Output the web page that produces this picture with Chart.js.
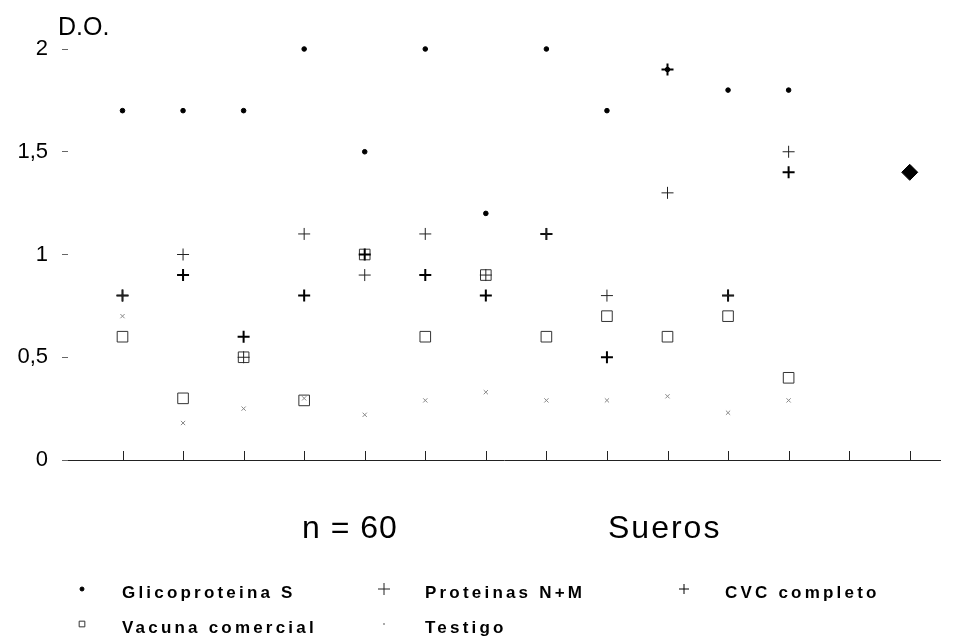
<!DOCTYPE html>
<html>
<head>
<meta charset="utf-8">
<script src="https://cdn.jsdelivr.net/npm/chart.js@4.4.1/dist/chart.umd.min.js"></script>
<style>
  html, body { margin: 0; padding: 0; background: #fff; }
  #wrap { width: 958px; height: 640px; }
</style>
</head>
<body>
<div id="wrap"><canvas id="chart" width="958" height="640"></canvas></div>
<script>
// sera positions along the x axis
var sueros = [1, 2, 3, 4, 5, 6, 7, 8, 9, 10, 11, 12, 13, 14];

var glicoproteina = [1.7, 1.7, 1.7, 2.0, 1.5, 2.0, 1.2, 2.0, 1.7, 1.9, 1.8, 1.8, null, null];
var proteinasNM   = [0.8, 1.0, 0.5, 1.1, 0.9, 1.1, 0.9, 1.1, 0.8, 1.3, 0.8, 1.5, null, null];
var cvcCompleto   = [0.8, 0.9, 0.6, 0.8, 1.0, 0.9, 0.8, 1.1, 0.5, 1.9, 0.8, 1.4, null, null];
var vacuna        = [0.6, 0.3, 0.5, 0.29, 1.0, 0.6, 0.9, 0.6, 0.7, 0.6, 0.7, 0.4, null, null];
var testigo       = [0.7, 0.18, 0.25, 0.3, 0.22, 0.29, 0.33, 0.29, 0.29, 0.31, 0.23, 0.29, null, null];
var aislado       = [null, null, null, null, null, null, null, null, null, null, null, null, null, 1.4];

var yTicks = [0, 0.5, 1, 1.5, 2];

function $each(arr, fn) { for (var i = 0; i < arr.length; i++) fn(arr[i], i); }

function pts(values) {
    var out = [];
    $each(values, function(v, i) {
        if (v !== null) out.push({ x: sueros[i], y: v });
    });
    return out;
}

var datasets = [
    { label: "Glicoproteina S", data: pts(glicoproteina), pointStyle: "circle", pointRadius: 2.3,
      backgroundColor: "#000", borderColor: "#000", pointBorderWidth: 1, legendRadius: 2 },
    { label: "Proteinas N+M", data: pts(proteinasNM), pointStyle: "cross", pointRadius: 6,
      backgroundColor: "#000", borderColor: "#222", pointBorderWidth: 1, legendRadius: 6 },
    { label: "CVC completo", data: pts(cvcCompleto), pointStyle: "cross", pointRadius: 6,
      backgroundColor: "#000", borderColor: "#000", pointBorderWidth: 2, legendRadius: 5 },
    { label: "Vacuna comercial", data: pts(vacuna), pointStyle: "rect", pointRadius: 7.5,
      backgroundColor: "rgba(0,0,0,0)", borderColor: "#333", pointBorderWidth: 1, legendRadius: 4 },
    { label: "Testigo", data: pts(testigo), pointStyle: "crossRot", pointRadius: 3,
      backgroundColor: "#888", borderColor: "#888", pointBorderWidth: 1, legendRadius: 1 },
    { label: "", data: pts(aislado), pointStyle: "rectRot", pointRadius: 8,
      backgroundColor: "#000", borderColor: "#000", pointBorderWidth: 1, hideInLegend: true }
];
$each(datasets, function(ds) { ds.clip = false; });

var textPlugin = {
    id: "extraText",
    afterDraw: function(chart) {
        var ctx = chart.ctx;
        var xs = chart.scales.x;
        var area = chart.chartArea;

        // x ticks pointing up from the axis
        ctx.save();
        ctx.strokeStyle = "#222";
        ctx.lineWidth = 1;
        $each(sueros, function(v) {
            var px = Math.round(xs.getPixelForValue(v)) + 0.5;
            ctx.beginPath();
            ctx.moveTo(px, area.bottom);
            ctx.lineTo(px, area.bottom - 9);
            ctx.stroke();
        });
        ctx.restore();

        ctx.save();
        ctx.fillStyle = "#000";
        ctx.textBaseline = "alphabetic";
        ctx.textAlign = "left";
        ctx.font = "25px Arial, 'Liberation Sans'";
        ctx.fillText("D.O.", 58, 35);

        ctx.font = "32px Arial, 'Liberation Sans'";
        ctx.letterSpacing = "1px";
        ctx.fillText("n = 60", 302, 538);
        ctx.letterSpacing = "2px";
        ctx.fillText("Sueros", 608, 538);

        // legend, three columns
        var markX = [82, 384, 684];
        var textX = [122, 425, 725];
        var rowY = [593, 628];
        ctx.font = "bold 17px Arial, 'Liberation Sans'";
        ctx.letterSpacing = "3.2px";
        ctx.textBaseline = "middle";
        var n = 0;
        $each(chart.data.datasets, function(ds) {
            if (ds.hideInLegend) return;
            var col = n % 3, row = Math.floor(n / 3);
            ctx.fillStyle = ds.backgroundColor;
            ctx.strokeStyle = ds.borderColor;
            ctx.lineWidth = 1;
            Chart.helpers.drawPoint(ctx, {
                pointStyle: ds.pointStyle, radius: ds.legendRadius, borderWidth: 1, rotation: 0
            }, markX[col], rowY[row] - 4);
            ctx.fillStyle = "#000";
            ctx.fillText(ds.label, textX[col], rowY[row]);
            n++;
        });
        ctx.letterSpacing = "0px";
        ctx.restore();
    }
};

var ctx = document.getElementById("chart").getContext("2d");
var chart = new Chart(ctx, {
    type: "scatter",
    data: { datasets: datasets },
    options: {
        responsive: false,
        animation: false,
        layout: { padding: { top: 49, right: 18, bottom: 0, left: 0 } },
        plugins: {
            legend: { display: false },
            tooltip: { enabled: false }
        },
        scales: {
            x: {
                type: "linear",
                min: 0.1,
                max: 14.5,
                ticks: { display: false },
                grid: { display: false },
                border: { display: true, color: "#222", width: 1 },
                afterFit: function(scale) { scale.height = 180; }
            },
            y: {
                min: 0,
                max: 2,
                afterBuildTicks: function(scale) {
                    scale.ticks = yTicks.map(function(v) { return { value: v }; });
                },
                ticks: {
                    color: "#000",
                    padding: 14,
                    font: { family: "Arial, 'Liberation Sans'", size: 22 },
                    callback: function(v) { return String(v).replace(".", ","); }
                },
                grid: { drawOnChartArea: false, tickLength: 6, color: "#666" },
                border: { display: false },
                afterFit: function(scale) { scale.width = 68; }
            }
        }
    },
    plugins: [textPlugin]
});
</script>
</body>
</html>
